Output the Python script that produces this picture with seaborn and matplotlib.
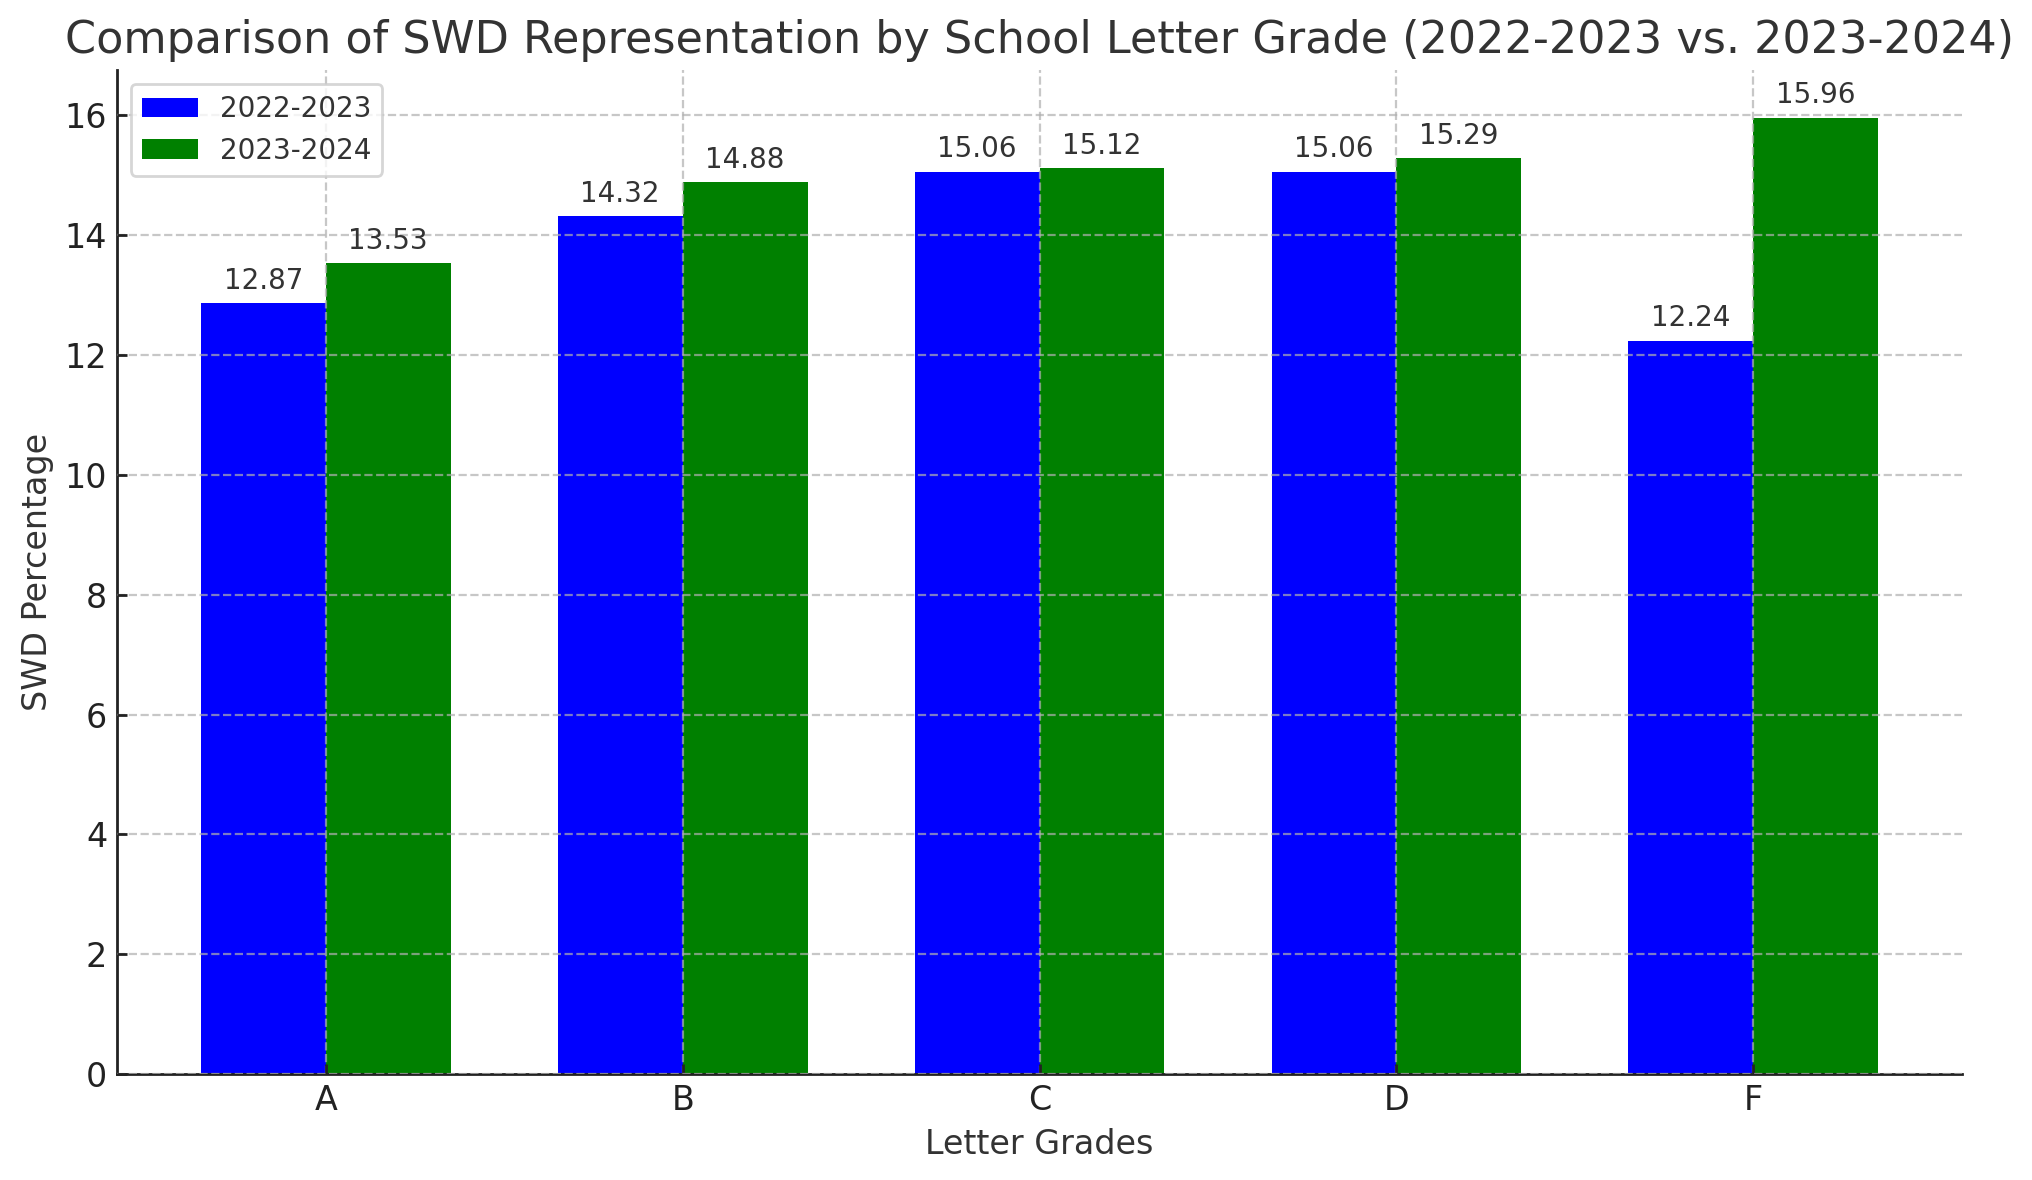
import matplotlib
matplotlib.use("Agg")
import matplotlib.pyplot as plt
import seaborn as sns
import pandas as pd

# data
grades = ["A", "B", "C", "D", "F"]
years = ["2022-2023", "2023-2024"]
swd_2022_2023 = [12.87, 14.32, 15.06, 15.06, 12.24]
swd_2023_2024 = [13.53, 14.88, 15.12, 15.29, 15.96]
bar_colors = ["blue", "green"]

# long form table for seaborn
df = pd.DataFrame({
    "grade": grades * 2,
    "year": [years[0]] * len(grades) + [years[1]] * len(grades),
    "swd": swd_2022_2023 + swd_2023_2024,
})

sns.set_style("white")
plt.rcParams["font.family"] = ["DejaVu Sans"]
plt.rcParams["text.color"] = "#333333"
plt.rcParams["axes.labelcolor"] = "#333333"

fig, ax = plt.subplots(figsize=(10.16, 5.9), dpi=200)
fig.subplots_adjust(left=0.0576, right=0.9656, bottom=0.0898, top=0.9407)

sns.barplot(data=df, x="grade", y="swd", hue="year", order=grades,
            hue_order=years, palette=bar_colors, width=0.7, saturation=1,
            errorbar=None, linewidth=0, ax=ax)

# value labels
for container in ax.containers:
    for bar in container:
        h = bar.get_height()
        ax.annotate(f"{h:.2f}", (bar.get_x() + bar.get_width() / 2, h),
                    xytext=(0, 3), textcoords="offset points",
                    ha="center", va="bottom", fontsize=10, color="#333333")

ax.set_xlim(-0.585, 4.585)
ax.set_ylim(0, 16.758)
ax.set_yticks(range(0, 17, 2))

ax.set_title("Comparison of SWD Representation by School Letter Grade (2022-2023 vs. 2023-2024)",
             fontsize=16, color="#333333")
ax.set_xlabel("Letter Grades", fontsize=12)
ax.set_ylabel("SWD Percentage", fontsize=12)
ax.tick_params(axis="both", labelsize=12, colors="#222222", length=3.5, width=1,
               direction="in", bottom=True, left=True)

ax.set_axisbelow(False)
ax.grid(True, linestyle="--", color="#b0b0b0", alpha=0.7, linewidth=0.8)

sns.despine(ax=ax)
for side in ["left", "bottom"]:
    ax.spines[side].set_color("#222222")
    ax.spines[side].set_linewidth(1.0)

leg = ax.legend(loc="upper left", fontsize=10, title=None, frameon=True)
leg.get_frame().set_edgecolor("#cccccc")

fig.savefig("out.png", dpi=200)
